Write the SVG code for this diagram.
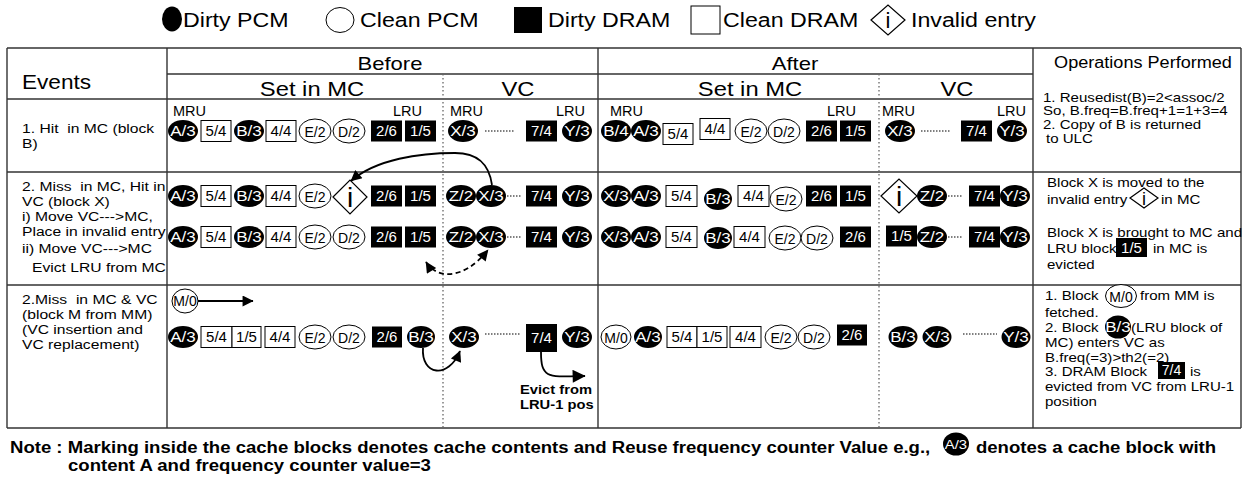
<svg xmlns="http://www.w3.org/2000/svg" width="1246" height="483" viewBox="0 0 1246 483">
<defs>
<style>
text{font-family:"Liberation Sans",Arial,Helvetica,sans-serif;fill:#000}
.s{transform-box:fill-box;transform-origin:0 50%;transform:scaleX(1.16)}
.c{text-anchor:middle;transform-box:fill-box;transform-origin:50% 50%;transform:scaleX(1.16)}
.lg{font-size:20px}
.hd{font-size:19px}
.sb{font-size:20.5px}
.oh{font-size:15.6px}
.ev{font-size:13.5px}
.op{font-size:13px}
.nt{font-size:16px;font-weight:bold}
.ev3{font-size:12.7px;font-weight:bold}
.ru{font-size:14.5px}
.k{fill:#000}
.ow{fill:#fff;stroke:#000;stroke-width:1}
.dm{fill:#fff;stroke:#000;stroke-width:1.2}
.le{fill:#fff;font-size:15.5px;text-anchor:middle;transform-box:fill-box;transform-origin:50% 50%;transform:scaleX(1.1)}
.lf{fill:#fff;font-size:15px;text-anchor:middle}
.lc{font-size:15px;text-anchor:middle}
.lo{font-size:14px;text-anchor:middle}
.ii{font-size:28px;text-anchor:middle}
.grid line{stroke:#333;stroke-width:1.4}
.grid .dot{stroke:#666;stroke-width:1.3;stroke-dasharray:1.5 2.5}
.gap line{stroke:#000;stroke-width:1.2;stroke-dasharray:1.5 1.5}
.cn{fill:none;stroke:#000;stroke-width:1.8}
</style>
<marker id="ah" viewBox="0 0 10 10" refX="9.5" refY="5" markerUnits="userSpaceOnUse" markerWidth="16" markerHeight="11" orient="auto-start-reverse"><path d="M0,0 L10,5 L0,10 z" fill="#000"/></marker>
<marker id="ahl" viewBox="0 0 10 10" refX="9.5" refY="5" markerUnits="userSpaceOnUse" markerWidth="20" markerHeight="13" orient="auto"><path d="M0,0 L10,5 L0,10 z" fill="#000"/></marker>
</defs>

<!-- legend -->
<g id="legend">
<ellipse class="k" cx="172" cy="19" rx="10" ry="12.5"/>
<text class="lg s" x="183" y="27">Dirty PCM</text>
<ellipse class="ow" cx="340" cy="20" rx="14" ry="12.5"/>
<text class="lg s" x="360" y="27">Clean PCM</text>
<rect class="k" x="514" y="7" width="28" height="26"/>
<text class="lg s" x="548" y="27">Dirty DRAM</text>
<rect class="ow" x="691" y="6" width="29" height="28"/>
<text class="lg s" x="723" y="27">Clean DRAM</text>
<polygon class="dm" points="871,20 888,5 905,20 888,35"/>
<text x="888" y="28" style="font-size:22px;text-anchor:middle">i</text>
<text class="lg s" x="911" y="27">Invalid entry</text>
</g>

<!-- table frame -->
<g id="grid" class="grid">
<line x1="7" y1="48" x2="1241" y2="48"/>
<line x1="7" y1="428" x2="1241" y2="428"/>
<line x1="7" y1="48" x2="7" y2="428"/>
<line x1="1241" y1="48" x2="1241" y2="428"/>
<line x1="167" y1="48" x2="167" y2="428"/>
<line x1="598" y1="48" x2="598" y2="428"/>
<line x1="1033" y1="48" x2="1033" y2="428"/>
<line x1="167" y1="74" x2="1033" y2="74"/>
<line x1="7" y1="99" x2="1033" y2="99"/>
<line x1="7" y1="172" x2="1241" y2="172"/>
<line x1="7" y1="285" x2="1241" y2="285"/>
<line class="dot" x1="443" y1="74" x2="443" y2="428"/>
<line class="dot" x1="879" y1="74" x2="879" y2="428"/>
</g>

<!-- column headers -->
<g id="headers">
<text class="hd s" x="22" y="89" style="font-size:19.5px">Events</text>
<text class="hd c" x="390" y="70">Before</text>
<text class="hd c" x="795" y="70">After</text>
<text class="sb c" x="312" y="96">Set in MC</text>
<text class="sb c" x="518" y="96">VC</text>
<text class="sb c" x="750" y="96">Set in MC</text>
<text class="sb c" x="957" y="96">VC</text>
<text class="oh c" x="1143" y="68">Operations Performed</text>
</g>

<!-- event descriptions -->
<g id="events">
<text class="ev s" x="22" y="133" xml:space="preserve">1. Hit  in MC (block</text>
<text class="ev s" x="22" y="148">B)</text>
<text class="ev s" x="22" y="191" xml:space="preserve">2. Miss  in MC, Hit in</text>
<text class="ev s" x="22" y="206">VC (block X)</text>
<text class="ev s" x="22" y="221">i) Move VC---&gt;MC,</text>
<text class="ev s" x="22" y="236">Place in invalid entry</text>
<text class="ev s" x="22" y="253">ii) Move VC---&gt;MC</text>
<text class="ev s" x="32" y="272">Evict LRU from MC</text>
<text class="ev s" x="22" y="304" xml:space="preserve">2.Miss  in MC &amp; VC</text>
<text class="ev s" x="22" y="319">(block M from MM)</text>
<text class="ev s" x="22" y="334">(VC insertion and</text>
<text class="ev s" x="22" y="349">VC replacement)</text>
</g>

<!-- MRU / LRU markers -->
<g id="mru-lru">
<text class="ru" x="173" y="116">MRU</text>
<text class="ru" x="393" y="116">LRU</text>
<text class="ru" x="450" y="116">MRU</text>
<text class="ru" x="556" y="116">LRU</text>
<text class="ru" x="610" y="116">MRU</text>
<text class="ru" x="827" y="116">LRU</text>
<text class="ru" x="882" y="116">MRU</text>
<text class="ru" x="997" y="116">LRU</text>
</g>

<!-- row 1: hit in MC -->
<g id="r1-before-mc">
<g id="r1b-a3"><ellipse class="k" cx="183" cy="131" rx="15" ry="11"/><text class="le" x="183" y="136.5">A/3</text></g>
<g id="r1b-54"><rect class="ow" x="201" y="120.5" width="30" height="21"/><text class="lc" x="216" y="136">5/4</text></g>
<g id="r1b-b3"><ellipse class="k" cx="249" cy="131" rx="15" ry="11"/><text class="le" x="249" y="136.5">B/3</text></g>
<g id="r1b-44"><rect class="ow" x="266" y="120.5" width="30" height="21"/><text class="lc" x="281" y="136">4/4</text></g>
<g id="r1b-e2"><ellipse class="ow" cx="315" cy="131" rx="16" ry="12"/><text class="lo" x="315" y="137">E/2</text></g>
<g id="r1b-d2"><ellipse class="ow" cx="349" cy="131" rx="16" ry="12"/><text class="lo" x="349" y="137">D/2</text></g>
<g id="r1b-26"><rect class="k" x="371" y="120.5" width="31" height="21"/><text class="lf" x="386.5" y="136">2/6</text></g>
<g id="r1b-15"><rect class="k" x="405" y="120.5" width="31" height="21"/><text class="lf" x="420.5" y="136">1/5</text></g>
</g>
<g id="r1-before-vc">
<g id="r1bv-x3"><ellipse class="k" cx="463" cy="131" rx="15" ry="11"/><text class="le" x="463" y="136.5">X/3</text></g>
<g id="r1bv-74"><rect class="k" x="526" y="120.5" width="31" height="21"/><text class="lf" x="541.5" y="136">7/4</text></g>
<g id="r1bv-y3"><ellipse class="k" cx="577" cy="131" rx="15" ry="11"/><text class="le" x="577" y="136.5">Y/3</text></g>
</g>
<g id="r1-after-mc">
<g id="r1a-b4"><ellipse class="k" cx="616" cy="131" rx="15" ry="11"/><text class="le" x="616" y="136.5">B/4</text></g>
<g id="r1a-a3"><ellipse class="k" cx="646" cy="131" rx="15" ry="11"/><text class="le" x="646" y="136.5">A/3</text></g>
<g id="r1a-54"><rect class="ow" x="663" y="123.5" width="30" height="21"/><text class="lc" x="678" y="139">5/4</text></g>
<g id="r1a-44"><rect class="ow" x="700" y="118.5" width="30" height="21"/><text class="lc" x="715" y="134">4/4</text></g>
<g id="r1a-e2"><ellipse class="ow" cx="751" cy="131" rx="16" ry="12"/><text class="lo" x="751" y="137">E/2</text></g>
<g id="r1a-d2"><ellipse class="ow" cx="784" cy="131" rx="16" ry="12"/><text class="lo" x="784" y="137">D/2</text></g>
<g id="r1a-26"><rect class="k" x="806" y="120.5" width="31" height="21"/><text class="lf" x="821.5" y="136">2/6</text></g>
<g id="r1a-15"><rect class="k" x="840" y="120.5" width="31" height="21"/><text class="lf" x="855.5" y="136">1/5</text></g>
</g>
<g id="r1-after-vc">
<g id="r1av-x3"><ellipse class="k" cx="900" cy="131" rx="15" ry="11"/><text class="le" x="900" y="136.5">X/3</text></g>
<g id="r1av-74"><rect class="k" x="961" y="120.5" width="31" height="21"/><text class="lf" x="976.5" y="136">7/4</text></g>
<g id="r1av-y3"><ellipse class="k" cx="1012" cy="131" rx="15" ry="11"/><text class="le" x="1012" y="136.5">Y/3</text></g>
</g>

<!-- row 2: miss in MC, hit in VC -->
<g id="r2a-before-mc">
<g id="r2ab-a3"><ellipse class="k" cx="183" cy="196" rx="15" ry="11"/><text class="le" x="183" y="201.5">A/3</text></g>
<g id="r2ab-54"><rect class="ow" x="201" y="185.5" width="30" height="21"/><text class="lc" x="216" y="201">5/4</text></g>
<g id="r2ab-b3"><ellipse class="k" cx="249" cy="196" rx="15" ry="11"/><text class="le" x="249" y="201.5">B/3</text></g>
<g id="r2ab-44"><rect class="ow" x="266" y="185.5" width="30" height="21"/><text class="lc" x="281" y="201">4/4</text></g>
<g id="r2ab-e2"><ellipse class="ow" cx="315" cy="196" rx="16" ry="12"/><text class="lo" x="315" y="202">E/2</text></g>
<g id="r2ab-inv"><polygon class="dm" points="333,197 350,180 367,197 350,214"/><text class="ii" x="350" y="207">i</text></g>
<g id="r2ab-26"><rect class="k" x="371" y="185.5" width="31" height="21"/><text class="lf" x="386.5" y="201">2/6</text></g>
<g id="r2ab-15"><rect class="k" x="405" y="185.5" width="31" height="21"/><text class="lf" x="420.5" y="201">1/5</text></g>
</g>
<g id="r2a-before-vc">
<g id="r2abv-z2"><ellipse class="k" cx="461" cy="196" rx="15" ry="11"/><text class="le" x="461" y="201.5">Z/2</text></g>
<g id="r2abv-x3"><ellipse class="k" cx="491" cy="196" rx="15" ry="11"/><text class="le" x="491" y="201.5">X/3</text></g>
<g id="r2abv-74"><rect class="k" x="526" y="185.5" width="31" height="21"/><text class="lf" x="541.5" y="201">7/4</text></g>
<g id="r2abv-y3"><ellipse class="k" cx="577" cy="196" rx="15" ry="11"/><text class="le" x="577" y="201.5">Y/3</text></g>
</g>
<g id="r2a-after-mc">
<g id="r2aa-x3"><ellipse class="k" cx="616" cy="196" rx="15" ry="11"/><text class="le" x="616" y="201.5">X/3</text></g>
<g id="r2aa-a3"><ellipse class="k" cx="646" cy="196" rx="15" ry="11"/><text class="le" x="646" y="201.5">A/3</text></g>
<g id="r2aa-54"><rect class="ow" x="666" y="185.5" width="31" height="21"/><text class="lc" x="681.5" y="201">5/4</text></g>
<g id="r2aa-b3"><ellipse class="k" cx="718" cy="199" rx="14" ry="11"/><text class="le" x="718" y="204.5">B/3</text></g>
<g id="r2aa-44"><rect class="ow" x="738" y="185.5" width="31" height="21"/><text class="lc" x="753.5" y="201">4/4</text></g>
<g id="r2aa-e2"><ellipse class="ow" cx="786" cy="199" rx="16" ry="12"/><text class="lo" x="786" y="205">E/2</text></g>
<g id="r2aa-26"><rect class="k" x="806" y="185.5" width="31" height="21"/><text class="lf" x="821.5" y="201">2/6</text></g>
<g id="r2aa-15"><rect class="k" x="840" y="185.5" width="31" height="21"/><text class="lf" x="855.5" y="201">1/5</text></g>
</g>
<g id="r2a-after-vc">
<g id="r2aav-inv"><polygon class="dm" points="881,196 899,179 917,196 899,213"/><text class="ii" x="899" y="206">i</text></g>
<g id="r2aav-z2"><ellipse class="k" cx="932" cy="196" rx="15" ry="11"/><text class="le" x="932" y="201.5">Z/2</text></g>
<g id="r2aav-74"><rect class="k" x="969" y="185.5" width="31" height="21"/><text class="lf" x="984.5" y="201">7/4</text></g>
<g id="r2aav-y3"><ellipse class="k" cx="1015" cy="196" rx="15" ry="11"/><text class="le" x="1015" y="201.5">Y/3</text></g>
</g>

<g id="r2b-before-mc">
<g id="r2bb-a3"><ellipse class="k" cx="183" cy="237" rx="15" ry="11"/><text class="le" x="183" y="242.5">A/3</text></g>
<g id="r2bb-54"><rect class="ow" x="201" y="226.5" width="30" height="21"/><text class="lc" x="216" y="242">5/4</text></g>
<g id="r2bb-b3"><ellipse class="k" cx="249" cy="237" rx="15" ry="11"/><text class="le" x="249" y="242.5">B/3</text></g>
<g id="r2bb-44"><rect class="ow" x="266" y="226.5" width="30" height="21"/><text class="lc" x="281" y="242">4/4</text></g>
<g id="r2bb-e2"><ellipse class="ow" cx="315" cy="237" rx="16" ry="12"/><text class="lo" x="315" y="243">E/2</text></g>
<g id="r2bb-d2"><ellipse class="ow" cx="349" cy="237" rx="16" ry="12"/><text class="lo" x="349" y="243">D/2</text></g>
<g id="r2bb-26"><rect class="k" x="371" y="226.5" width="31" height="21"/><text class="lf" x="386.5" y="242">2/6</text></g>
<g id="r2bb-15"><rect class="k" x="405" y="226.5" width="31" height="21"/><text class="lf" x="420.5" y="242">1/5</text></g>
</g>
<g id="r2b-before-vc">
<g id="r2bbv-z2"><ellipse class="k" cx="461" cy="237" rx="15" ry="11"/><text class="le" x="461" y="242.5">Z/2</text></g>
<g id="r2bbv-x3"><ellipse class="k" cx="491" cy="237" rx="15" ry="11"/><text class="le" x="491" y="242.5">X/3</text></g>
<g id="r2bbv-74"><rect class="k" x="526" y="226.5" width="31" height="21"/><text class="lf" x="541.5" y="242">7/4</text></g>
<g id="r2bbv-y3"><ellipse class="k" cx="577" cy="237" rx="15" ry="11"/><text class="le" x="577" y="242.5">Y/3</text></g>
</g>
<g id="r2b-after-mc">
<g id="r2ba-x3"><ellipse class="k" cx="616" cy="237" rx="15" ry="11"/><text class="le" x="616" y="242.5">X/3</text></g>
<g id="r2ba-a3"><ellipse class="k" cx="646" cy="237" rx="15" ry="11"/><text class="le" x="646" y="242.5">A/3</text></g>
<g id="r2ba-54"><rect class="ow" x="666" y="226.5" width="31" height="21"/><text class="lc" x="681.5" y="242">5/4</text></g>
<g id="r2ba-b3"><ellipse class="k" cx="718" cy="238" rx="14" ry="11"/><text class="le" x="718" y="243.5">B/3</text></g>
<g id="r2ba-44"><rect class="ow" x="734" y="226.5" width="31" height="21"/><text class="lc" x="749.5" y="242">4/4</text></g>
<g id="r2ba-e2"><ellipse class="ow" cx="785" cy="238" rx="16" ry="12"/><text class="lo" x="785" y="244">E/2</text></g>
<g id="r2ba-d2"><ellipse class="ow" cx="817" cy="238" rx="16" ry="12"/><text class="lo" x="817" y="244">D/2</text></g>
<g id="r2ba-26"><rect class="k" x="840" y="226.5" width="31" height="21"/><text class="lf" x="855.5" y="242">2/6</text></g>
</g>
<g id="r2b-after-vc">
<g id="r2bav-15"><rect class="k" x="886" y="225.5" width="31" height="21"/><text class="lf" x="901.5" y="241">1/5</text></g>
<g id="r2bav-z2"><ellipse class="k" cx="932" cy="237" rx="15" ry="11"/><text class="le" x="932" y="242.5">Z/2</text></g>
<g id="r2bav-74"><rect class="k" x="969" y="226.5" width="31" height="21"/><text class="lf" x="984.5" y="242">7/4</text></g>
<g id="r2bav-y3"><ellipse class="k" cx="1015" cy="237" rx="15" ry="11"/><text class="le" x="1015" y="242.5">Y/3</text></g>
</g>

<!-- row 3: miss in MC and VC -->
<g id="r3-fetch-m0"><ellipse class="ow" cx="185" cy="301" rx="13" ry="12"/><text class="lo" x="185" y="306">M/0</text></g>
<g id="r3-before-mc">
<g id="r3b-a3"><ellipse class="k" cx="183" cy="337" rx="15" ry="11"/><text class="le" x="183" y="342.5">A/3</text></g>
<g id="r3b-54"><rect class="ow" x="201" y="326.5" width="31" height="21"/><text class="lc" x="216.5" y="342">5/4</text></g>
<g id="r3b-15"><rect class="ow" x="232" y="326.5" width="29" height="21"/><text class="lc" x="246.5" y="342">1/5</text></g>
<g id="r3b-44"><rect class="ow" x="265" y="326.5" width="30" height="21"/><text class="lc" x="280" y="342">4/4</text></g>
<g id="r3b-e2"><ellipse class="ow" cx="315" cy="337" rx="16" ry="12"/><text class="lo" x="315" y="343">E/2</text></g>
<g id="r3b-d2"><ellipse class="ow" cx="349" cy="337" rx="16" ry="12"/><text class="lo" x="349" y="343">D/2</text></g>
<g id="r3b-26"><rect class="k" x="372" y="326.5" width="30" height="21"/><text class="lf" x="387" y="342">2/6</text></g>
<g id="r3b-b3"><ellipse class="k" cx="421" cy="337" rx="14" ry="11"/><text class="le" x="421" y="342.5">B/3</text></g>
</g>
<g id="r3-before-vc">
<g id="r3bv-x3"><ellipse class="k" cx="464" cy="337" rx="15" ry="11"/><text class="le" x="464" y="342.5">X/3</text></g>
<g id="r3bv-74"><rect class="k" x="526" y="324" width="31" height="28"/><text class="lf" x="541.5" y="343">7/4</text></g>
<g id="r3bv-y3"><ellipse class="k" cx="577" cy="337" rx="15" ry="11"/><text class="le" x="577" y="342.5">Y/3</text></g>
</g>
<g id="r3-after-mc">
<g id="r3a-m0"><ellipse class="ow" cx="616" cy="337" rx="15" ry="12"/><text class="lo" x="616" y="343">M/0</text></g>
<g id="r3a-a3"><ellipse class="k" cx="648" cy="337" rx="14" ry="11"/><text class="le" x="648" y="342.5">A/3</text></g>
<g id="r3a-54"><rect class="ow" x="667" y="326.5" width="30" height="21"/><text class="lc" x="682" y="342">5/4</text></g>
<g id="r3a-15"><rect class="ow" x="697" y="326.5" width="30" height="21"/><text class="lc" x="712" y="342">1/5</text></g>
<g id="r3a-44"><rect class="ow" x="730" y="326.5" width="31" height="21"/><text class="lc" x="745.5" y="342">4/4</text></g>
<g id="r3a-e2"><ellipse class="ow" cx="781" cy="337" rx="16" ry="12"/><text class="lo" x="781" y="343">E/2</text></g>
<g id="r3a-d2"><ellipse class="ow" cx="814" cy="337" rx="16" ry="12"/><text class="lo" x="814" y="343">D/2</text></g>
<g id="r3a-26"><rect class="k" x="837" y="324.5" width="30" height="21"/><text class="lf" x="852" y="340">2/6</text></g>
</g>
<g id="r3-after-vc">
<g id="r3av-b3"><ellipse class="k" cx="903" cy="337" rx="14.5" ry="11"/><text class="le" x="903" y="342.5">B/3</text></g>
<g id="r3av-x3"><ellipse class="k" cx="937" cy="337" rx="14.5" ry="11"/><text class="le" x="937" y="342.5">X/3</text></g>
<g id="r3av-y3"><ellipse class="k" cx="1016" cy="337" rx="14.5" ry="11"/><text class="le" x="1016" y="342.5">Y/3</text></g>
</g>

<!-- elided VC entries between MRU and LRU -->
<g id="vc-gaps" class="gap">
<line x1="485" y1="131" x2="515" y2="131"/>
<line x1="921" y1="131" x2="951" y2="131"/>
<line x1="507" y1="196" x2="521" y2="196"/>
<line x1="948" y1="196" x2="963" y2="196"/>
<line x1="507" y1="237" x2="521" y2="237"/>
<line x1="948" y1="237" x2="963" y2="237"/>
<line x1="485" y1="334" x2="520" y2="334"/>
<line x1="963" y1="334" x2="997" y2="334"/>
</g>

<!-- block movements -->
<g id="connectors">
<path class="cn" d="M492,185 C489,164 478,153 455,153 C420,153 376,159 351,181" marker-end="url(#ah)"/>
<path class="cn" d="M426,262 C436,278 462,282 488,250" stroke-dasharray="5 3.5" marker-start="url(#ah)" marker-end="url(#ah)"/>
<path class="cn" d="M198,301 L253,301" marker-end="url(#ah)"/>
<path class="cn" d="M423,348 C421,375 448,380 460,351" marker-end="url(#ah)"/>
<path class="cn" d="M541,352 C541,379 548,377 585,376" marker-end="url(#ahl)"/>
</g>
<text class="ev3 s" x="520" y="394">Evict from</text>
<text class="ev3 s" x="520" y="409">LRU-1 pos</text>

<!-- operations performed -->
<g id="ops-r1">
<text class="op s" x="1043" y="102">1. Reusedist(B)=2&lt;assoc/2</text>
<text class="op s" x="1043" y="115.5">So, B.freq=B.freq+1=1+3=4</text>
<text class="op s" x="1043" y="129">2. Copy of B is returned</text>
<text class="op s" x="1046" y="143">to ULC</text>
</g>
<g id="ops-r2">
<text class="op s" x="1047" y="187">Block X is moved to the</text>
<text class="op s" x="1047" y="204">invalid entry</text>
<polygon class="dm" points="1130,198 1144,188 1158,198 1144,208"/>
<text x="1144" y="205" style="font-size:18px;text-anchor:middle">i</text>
<text class="op s" x="1161" y="204">in MC</text>
<text class="op s" x="1047" y="237">Block X is brought to MC and</text>
<text class="op s" x="1047" y="253">LRU block</text>
<rect class="k" x="1116" y="238" width="31" height="19"/>
<text class="lf" x="1131.5" y="253">1/5</text>
<text class="op s" x="1153" y="253">in MC is</text>
<text class="op s" x="1047" y="269">evicted</text>
</g>
<g id="ops-r3">
<text class="op s" x="1045" y="300">1. Block</text>
<ellipse class="ow" cx="1121" cy="296" rx="15.5" ry="11.5"/>
<text class="lo" x="1121" y="302">M/0</text>
<text class="op s" x="1140" y="300">from MM is</text>
<text class="op s" x="1045" y="317">fetched.</text>
<text class="op s" x="1045" y="332">2. Block</text>
<ellipse class="k" cx="1118" cy="327" rx="13" ry="11.5"/>
<text class="le" x="1118" y="332.5">B/3</text>
<text class="op s" x="1131" y="332">(LRU block of</text>
<text class="op s" x="1045" y="347">MC) enters VC as</text>
<text class="op s" x="1045" y="362">B.freq(=3)&gt;th2(=2)</text>
<text class="op s" x="1045" y="376">3. DRAM Block</text>
<rect class="k" x="1158" y="362" width="27" height="17"/>
<text class="lf" x="1171.5" y="375" style="font-size:14px">7/4</text>
<text class="op s" x="1190" y="376">is</text>
<text class="op s" x="1045" y="391">evicted from VC from LRU-1</text>
<text class="op s" x="1045" y="406">position</text>
</g>

<!-- footnote -->
<g id="note">
<text class="nt s" x="10" y="453">Note : Marking inside the cache blocks denotes cache contents and Reuse frequency counter Value e.g.,</text>
<ellipse class="k" cx="956" cy="444" rx="13" ry="11.5"/>
<text class="le" x="956" y="449" style="font-size:13.5px">A/3</text>
<text class="nt s" x="976" y="453">denotes a cache block with</text>
<text class="nt s" x="68" y="471">content A and frequency counter value=3</text>
</g>
</svg>
